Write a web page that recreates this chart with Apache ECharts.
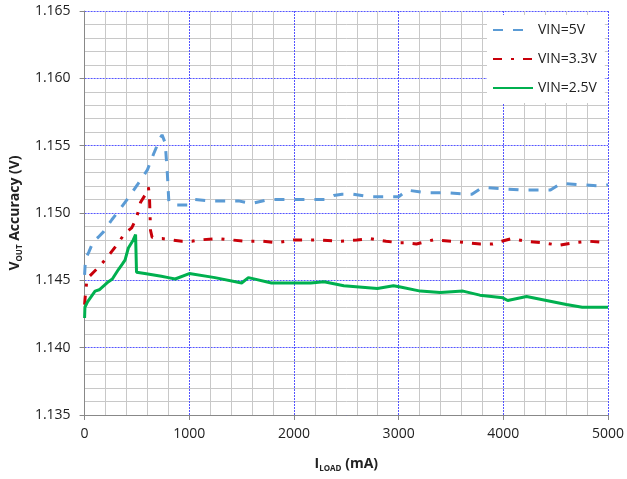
<!DOCTYPE html>
<html>
<head>
<meta charset="utf-8">
<script src="https://cdn.jsdelivr.net/npm/echarts@6/dist/echarts.min.js"></script>
<style>
  html, body { margin: 0; padding: 0; background: #fff; }
  #chart { width: 627px; height: 479px; }
</style>
</head>
<body>
<div id="chart"></div>
<script>
// VIN=5V
const load5 = [0, 5, 10, 40, 85, 130, 180, 260, 330, 425, 505, 600, 660, 725, 740, 770, 790, 805, 870, 990, 1050, 1190, 1470, 1595, 1755, 2000, 2100, 2300, 2380, 2460, 2560, 2730, 2950, 3000, 3080, 3270, 3460, 3650, 3700, 3800, 4000, 4180, 4380, 4450, 4550, 4750, 4950, 5000]
const vout5 = [1.1454, 1.1461, 1.1466, 1.1471, 1.1479, 1.1482, 1.1486, 1.1495, 1.1502, 1.1512, 1.1521, 1.1532, 1.1544, 1.1556, 1.1558, 1.1552, 1.1530, 1.1508, 1.1506, 1.1506, 1.1510, 1.1509, 1.1509, 1.1507, 1.1510, 1.1510, 1.1510, 1.1510, 1.1513, 1.1514, 1.1514, 1.1512, 1.1512, 1.1512, 1.1517, 1.1515, 1.1515, 1.1514, 1.1514, 1.1519, 1.1518, 1.1517, 1.1517, 1.1517, 1.1522, 1.1521, 1.1520, 1.1521]

// VIN=3.3V
const load33 = [0, 5, 12, 22, 85, 150, 245, 305, 385, 450, 495, 535, 575, 600, 610, 620, 630, 645, 700, 740, 930, 1025, 1100, 1260, 1400, 1550, 1700, 1840, 2000, 2100, 2200, 2450, 2600, 2730, 2800, 2880, 3000, 3060, 3170, 3330, 3520, 3650, 3780, 3900, 3985, 4080, 4220, 4370, 4535, 4680, 4820, 4980, 5000]
const vout33 = [1.1432, 1.1437, 1.1442, 1.1451, 1.1456, 1.1461, 1.1470, 1.1476, 1.1485, 1.1489, 1.1496, 1.1508, 1.1513, 1.1517, 1.1519, 1.1511, 1.1487, 1.1482, 1.1481, 1.1481, 1.1479, 1.1479, 1.1480, 1.1481, 1.1480, 1.1479, 1.1479, 1.1478, 1.1480, 1.1480, 1.1480, 1.1479, 1.1480, 1.1481, 1.1480, 1.1479, 1.1478, 1.1478, 1.1477, 1.1480, 1.1479, 1.1478, 1.1477, 1.1477, 1.1479, 1.1481, 1.1479, 1.1478, 1.1476, 1.1478, 1.1479, 1.1478, 1.1479]

// VIN=2.5V
const load25 = [0, 3, 28, 100, 140, 228, 265, 323, 360, 386, 418, 465, 487, 496, 575, 733, 800, 865, 1000, 1245, 1500, 1565, 1785, 2000, 2068, 2160, 2287, 2476, 2797, 2950, 3017, 3207, 3397, 3615, 3776, 3995, 4042, 4222, 4412, 4602, 4754, 5000]
const vout25 = [1.1422, 1.1430, 1.1434, 1.1442, 1.1443, 1.1449, 1.1451, 1.1458, 1.1462, 1.1465, 1.1474, 1.1480, 1.1484, 1.1456, 1.1455, 1.1453, 1.1452, 1.1451, 1.1455, 1.1452, 1.1448, 1.1452, 1.1448, 1.1448, 1.1448, 1.1448, 1.1449, 1.1446, 1.1444, 1.1446, 1.1445, 1.1442, 1.1441, 1.1442, 1.1439, 1.1437, 1.1435, 1.1438, 1.1435, 1.1432, 1.1430, 1.1430]

const seriesNames = ['VIN=5V', 'VIN=3.3V', 'VIN=2.5V']

const pairs = (xs, ys) => xs.map((x, i) => [x, ys[i]])

const font = "'Open Sans', 'Noto Sans', sans-serif"
const majorGrid = () => ({ show: true, lineStyle: { color: '#5555ff', width: 1, type: [2, 1] } })
const minorGrid = () => ({ show: true, lineStyle: { color: '#c8c8c8', width: 1 } })

// 轴标题的下标
const nameRich = {
  b: { fontFamily: font, fontSize: 14, fontWeight: 'bold', color: '#222', lineHeight: 18 },
  s: { fontFamily: font, fontSize: 8, fontWeight: 'bold', color: '#222', lineHeight: 12, verticalAlign: 'bottom' }
}

const chart = echarts.init(document.getElementById('chart'))

const option = {
  animation: false,
  backgroundColor: '#fff',
  grid: {
    left: 82,
    right: 18,
    top: 11,
    bottom: 64
  },
  legend: {
    data: seriesNames,
    orient: 'vertical',
    left: 487,
    top: 15,
    itemWidth: 40,
    itemHeight: 14,
    itemGap: 15,
    padding: [8, 8, 8, 5],
    backgroundColor: '#fff',
    itemStyle: { opacity: 0 },
    textStyle: { fontFamily: font, fontSize: 14, color: '#222' }
  },
  xAxis: {
    type: 'value',
    min: 0,
    max: 5000,
    interval: 1000,
    name: '{b|I}{s|LOAD}{b| (mA)}',
    nameLocation: 'middle',
    nameGap: 40,
    nameTextStyle: { rich: nameRich },
    axisLine: { show: true, lineStyle: { color: '#888', width: 1 } },
    axisTick: { show: true, length: 5, lineStyle: { color: '#888' } },
    axisLabel: { fontFamily: font, fontSize: 14, color: '#222', margin: 12, formatter: v => String(v) },
    splitLine: majorGrid(),
    minorTick: { show: false, splitNumber: 5 },
    minorSplitLine: minorGrid()
  },
  yAxis: {
    type: 'value',
    min: 1.135,
    max: 1.165,
    interval: 0.005,
    name: '{b|V}{s|OUT}{b| Accuracy (V)}',
    nameLocation: 'middle',
    nameGap: 48,
    nameRotate: 90,
    nameTextStyle: { rich: nameRich },
    axisLine: { show: true, lineStyle: { color: '#888', width: 1 } },
    axisTick: { show: true, length: 5, lineStyle: { color: '#888' } },
    axisLabel: {
      fontFamily: font,
      fontSize: 14,
      color: '#222',
      margin: 14,
      formatter: v => v.toFixed(3)
    },
    splitLine: majorGrid(),
    minorTick: { show: false, splitNumber: 5 },
    minorSplitLine: minorGrid()
  },
  series: [
    {
      name: seriesNames[0],
      type: 'line',
      data: pairs(load5, vout5),
      symbol: 'none',
      color: '#5b9bd5',
      lineStyle: { width: 3, type: [10, 10] }
    },
    {
      name: seriesNames[1],
      type: 'line',
      data: pairs(load33, vout33),
      symbol: 'none',
      color: '#c8000a',
      lineStyle: { width: 3, type: [9, 9, 3, 9] }
    },
    {
      name: seriesNames[2],
      type: 'line',
      data: pairs(load25, vout25),
      symbol: 'none',
      color: '#00b04f',
      lineStyle: { width: 3 }
    }
  ]
}

chart.setOption(option)
</script>
</body>
</html>
